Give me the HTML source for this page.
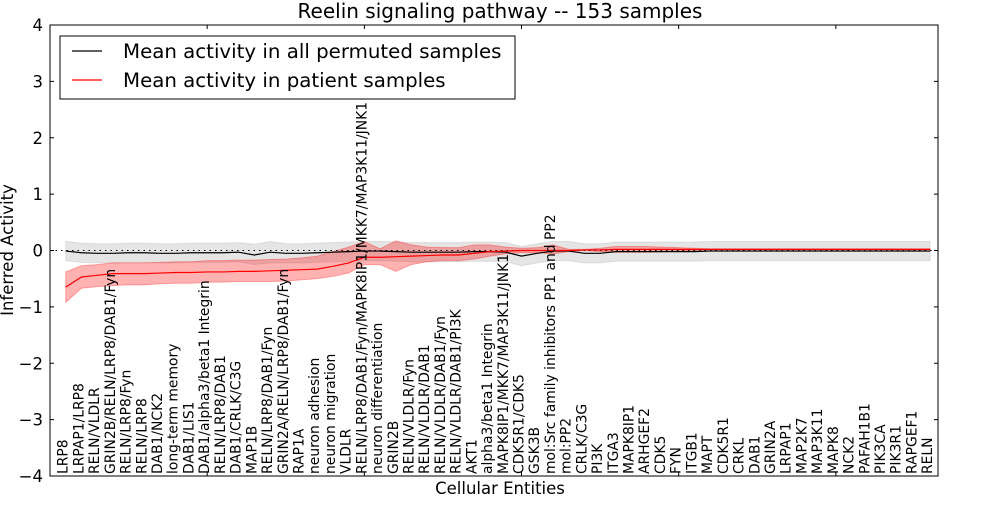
<!DOCTYPE html>
<html><head><meta charset="utf-8"><style>
body{margin:0;background:#fff;}
svg text{font-family:"DejaVu Sans","Liberation Sans",sans-serif;}
</style></head><body>
<svg id="chart" width="1000" height="500" xmlns="http://www.w3.org/2000/svg">
<rect width="1000" height="500" fill="#fff"/>
<g id="plot"></g>
<text x="500" y="18" font-size="20" text-anchor="middle">Reelin signaling pathway -- 153 samples</text>
<text x="500" y="494" font-size="16.5" text-anchor="middle">Cellular Entities</text>
<text x="13" y="250" font-size="16.5" text-anchor="middle" transform="rotate(-90 13 250)">Inferred Activity</text>
</svg>
<script>
const categories=["LRP8","LRPAP1/LRP8","RELN/VLDLR","GRIN2B/RELN/LRP8/DAB1/Fyn","RELN/LRP8/Fyn","RELN/LRP8","DAB1/NCK2","long-term memory","DAB1/LIS1","DAB1/alpha3/beta1 Integrin","RELN/LRP8/DAB1","DAB1/CRLK/C3G","MAP1B","RELN/LRP8/DAB1/Fyn","GRIN2A/RELN/LRP8/DAB1/Fyn","RAP1A","neuron adhesion","neuron migration","VLDLR","RELN/LRP8/DAB1/Fyn/MAPK8IP1/MKK7/MAP3K11/JNK1","neuron differentiation","GRIN2B","RELN/VLDLR/Fyn","RELN/VLDLR/DAB1","RELN/VLDLR/DAB1/Fyn","RELN/VLDLR/DAB1/PI3K","AKT1","alpha3/beta1 Integrin","MAPK8IP1/MKK7/MAP3K11/JNK1","CDK5R1/CDK5","GSK3B","mol:Src family inhibitors PP1 and PP2","mol:PP2","CRLK/C3G","PI3K","ITGA3","MAPK8IP1","ARHGEF2","CDK5","FYN","ITGB1","MAPT","CDK5R1","CRKL","DAB1","GRIN2A","LRPAP1","MAP2K7","MAP3K11","MAPK8","NCK2","PAFAH1B1","PIK3CA","PIK3R1","RAPGEF1","RELN"];
const patientMean=[-0.65,-0.47,-0.44,-0.41,-0.41,-0.41,-0.40,-0.39,-0.39,-0.38,-0.38,-0.37,-0.37,-0.36,-0.35,-0.34,-0.33,-0.28,-0.22,-0.12,-0.12,-0.11,-0.10,-0.09,-0.08,-0.08,-0.05,-0.02,-0.01,0.0,0.0,0.0,0.0,0.01,0.01,0.02,0.02,0.02,0.02,0.02,0.02,0.02,0.02,0.02,0.02,0.02,0.02,0.02,0.02,0.02,0.02,0.02,0.02,0.02,0.02,0.02];
const patientUpper=[-0.38,-0.27,-0.25,-0.22,-0.22,-0.22,-0.21,-0.20,-0.20,-0.18,-0.18,-0.17,-0.17,-0.16,-0.15,-0.13,-0.10,-0.02,0.06,0.16,0.03,0.17,0.10,0.06,0.05,0.05,0.10,0.10,0.06,0.04,0.05,0.10,0.02,0.02,0.04,0.07,0.07,0.07,0.06,0.05,0.04,0.03,0.03,0.03,0.03,0.03,0.03,0.03,0.03,0.03,0.03,0.03,0.03,0.03,0.03,0.03];
const patientLower=[-0.92,-0.67,-0.64,-0.62,-0.61,-0.61,-0.59,-0.58,-0.58,-0.56,-0.56,-0.55,-0.55,-0.55,-0.54,-0.52,-0.50,-0.46,-0.40,-0.25,-0.25,-0.37,-0.25,-0.20,-0.18,-0.18,-0.15,-0.10,-0.06,-0.04,-0.04,-0.06,-0.02,0.0,-0.02,-0.03,-0.03,-0.03,-0.02,-0.01,0.0,0.01,0.01,0.01,0.01,0.01,0.01,0.01,0.01,0.01,0.01,0.01,0.01,0.01,0.01,0.01];
const permMean=[-0.01,-0.04,-0.05,-0.05,-0.04,-0.04,-0.05,-0.05,-0.04,-0.04,-0.04,-0.03,-0.08,-0.03,-0.05,-0.05,-0.04,-0.03,-0.02,-0.01,-0.01,-0.02,-0.03,-0.03,-0.03,-0.03,-0.02,-0.02,-0.03,-0.10,-0.05,-0.01,-0.01,-0.05,-0.05,-0.02,-0.02,-0.02,-0.02,-0.02,-0.02,-0.01,-0.01,-0.01,-0.01,-0.01,-0.01,-0.01,-0.01,-0.01,-0.01,-0.01,-0.01,-0.01,-0.01,-0.01];
const permUpper=[0.16,0.13,0.12,0.12,0.13,0.13,0.12,0.12,0.13,0.13,0.13,0.14,0.11,0.16,0.12,0.12,0.13,0.14,0.15,0.16,0.16,0.15,0.14,0.14,0.14,0.14,0.15,0.15,0.14,0.07,0.12,0.16,0.16,0.12,0.12,0.15,0.15,0.15,0.15,0.15,0.15,0.16,0.16,0.16,0.16,0.16,0.16,0.16,0.16,0.16,0.16,0.16,0.16,0.16,0.16,0.16];
const permLower=[-0.18,-0.21,-0.22,-0.22,-0.21,-0.21,-0.22,-0.22,-0.21,-0.21,-0.21,-0.20,-0.25,-0.22,-0.22,-0.22,-0.21,-0.20,-0.19,-0.18,-0.18,-0.19,-0.20,-0.20,-0.20,-0.20,-0.19,-0.19,-0.20,-0.27,-0.22,-0.18,-0.18,-0.22,-0.22,-0.19,-0.19,-0.19,-0.19,-0.19,-0.19,-0.18,-0.18,-0.18,-0.18,-0.18,-0.18,-0.18,-0.18,-0.18,-0.18,-0.18,-0.18,-0.18,-0.18,-0.18];
const yTicks=[-4,-3,-2,-1,0,1,2,3,4];
const xTicks=[10,20,30,40,50];
const L=50,R=938,T=25,B=476;
const xs=v=>L+v*(R-L)/56.5;
const ys=v=>T+(4-v)*(B-T)/8;
const NS="http://www.w3.org/2000/svg";
const g=document.getElementById('plot');
function mk(tag,attrs){const e=document.createElementNS(NS,tag);for(const k in attrs)e.setAttribute(k,attrs[k]);g.appendChild(e);return e;}
function band(up,lo,fill,op,name){let d=up.map((v,i)=>(i?'L':'M')+xs(i+1)+','+ys(v)).join('');for(let i=lo.length-1;i>=0;i--)d+='L'+xs(i+1)+','+ys(lo[i]);d+='Z';const p=mk('path',{d:d,fill:fill,'fill-opacity':op,stroke:fill,'stroke-opacity':op,'stroke-width':1});

}
function line(vals,color,name,dash){const p=mk('polyline',{points:vals.map((v,i)=>xs(i+1)+','+ys(v)).join(' '),fill:'none',stroke:color,'stroke-width':1.2});if(dash)p.setAttribute('stroke-dasharray',dash);

}
band(permUpper,permLower,'#aaaaaa',0.3,'permuted-band');
band(patientUpper,patientLower,'#ff0000',0.3,'patient-band');
const zl=mk('line',{x1:L,x2:R,y1:ys(0),y2:ys(0),stroke:'#000','stroke-dasharray':'1.5,4','stroke-width':1});


line(permMean,'#000','permuted-mean-line');
line(patientMean,'#ff0000','patient-mean-line');
const fr=mk('rect',{x:L,y:T,width:R-L,height:B-T,fill:'none',stroke:'#000','stroke-width':1});


yTicks.forEach(v=>{const y=ys(v);
const t1=mk('line',{x1:L,x2:L+4,y1:y,y2:y,stroke:'#000'});
const t2=mk('line',{x1:R-4,x2:R,y1:y,y2:y,stroke:'#000'});
const tx=mk('text',{x:L-7,y:y+6,'font-size':16.5,'text-anchor':'end'});tx.textContent=String(v).replace('-','\u2212');

});
xTicks.forEach(v=>{const x=xs(v);
const t1=mk('line',{x1:x,x2:x,y1:T,y2:T+4,stroke:'#000'});
const t2=mk('line',{x1:x,x2:x,y1:B-4,y2:B,stroke:'#000'});});
categories.forEach((c,i)=>{const x=xs(i+1)+2,y=B-2;
const t=mk('text',{x:x,y:y,'font-size':13.9,transform:`rotate(-90 ${x} ${y})`});t.textContent=c;

});
const lg=mk('rect',{x:60,y:36,width:455,height:63,fill:'#fff',stroke:'#000','stroke-width':1});


[['Mean activity in all permuted samples','#000',51],['Mean activity in patient samples','#ff0000',80]].forEach(([lab,col,y])=>{
const l=mk('line',{x1:72,x2:102,y1:y,y2:y,stroke:col,'stroke-width':1.2});
const t=mk('text',{x:123,y:y+7,'font-size':19.8});t.textContent=lab;});
</script>
</body></html>
